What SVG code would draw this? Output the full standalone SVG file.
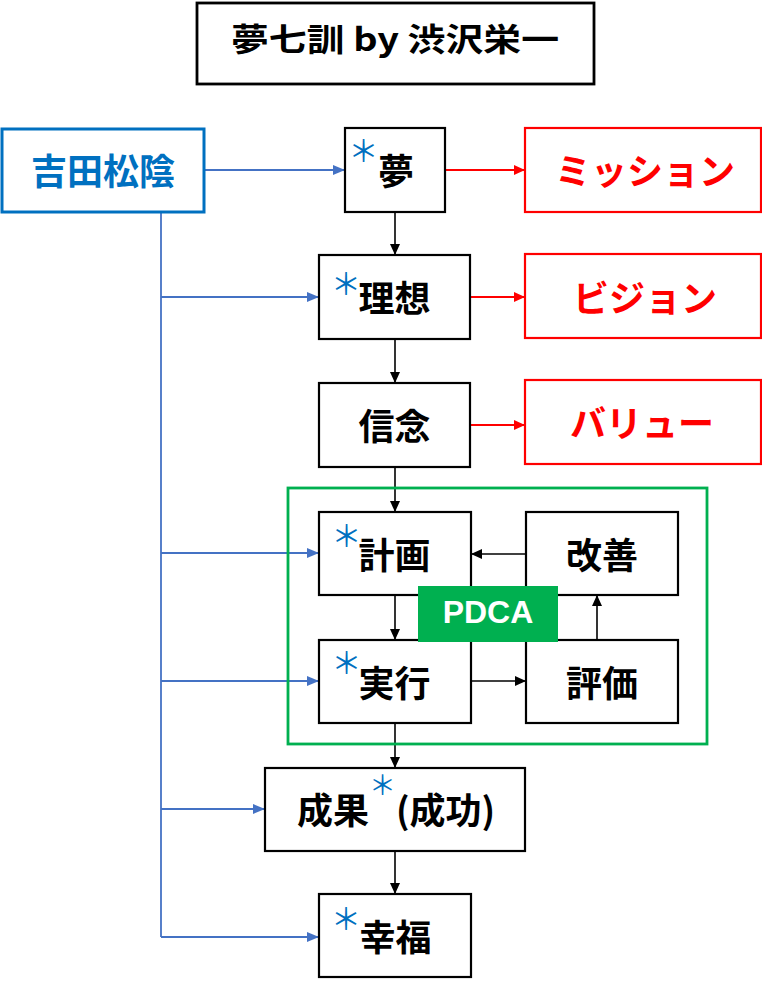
<svg xmlns="http://www.w3.org/2000/svg" width="762" height="982" viewBox="0 0 762 982">
<style>
.box{fill:#fff;stroke:#000;stroke-width:2.2}
.rbox{fill:#fff;stroke:#FF0000;stroke-width:2.2}
.t{font-family:"Noto Sans CJK JP","Noto Sans",sans-serif;font-weight:bold;font-size:36px;fill:#000;dominant-baseline:central;text-anchor:middle}
.r{fill:#FF0000}
.ast{font-family:"Noto Sans CJK JP",sans-serif;font-weight:normal;font-size:30px;fill:#0070C0;dominant-baseline:central;text-anchor:middle}
.k{stroke:#000;stroke-width:1.6;fill:none;marker-end:url(#ak)}
.rd{stroke:#FF0000;stroke-width:1.8;fill:none;marker-end:url(#ar)}
.bl{stroke:#4472C4;stroke-width:1.8;fill:none}
.bla{stroke:#4472C4;stroke-width:1.8;fill:none;marker-end:url(#ab)}
</style>
<defs>
<marker id="ak" markerUnits="userSpaceOnUse" markerWidth="11" markerHeight="10" refX="11" refY="5" orient="auto"><path d="M0,0 L11,5 L0,10 z" fill="#000"/></marker>
<marker id="ar" markerUnits="userSpaceOnUse" markerWidth="11" markerHeight="10" refX="11" refY="5" orient="auto"><path d="M0,0 L11,5 L0,10 z" fill="#FF0000"/></marker>
<marker id="ab" markerUnits="userSpaceOnUse" markerWidth="12" markerHeight="10" refX="12" refY="5" orient="auto"><path d="M0,0 L12,5 L0,10 z" fill="#4472C4"/></marker>
</defs>
<rect width="762" height="982" fill="#fff"/>

<g id="title">
<rect x="197" y="3" width="397" height="81" fill="#fff" stroke="#000" stroke-width="2.8"/>
<text x="231" y="37" class="t" style="font-size:32px;text-anchor:start" textLength="328" lengthAdjust="spacingAndGlyphs">夢七訓 by 渋沢栄一</text>
</g>

<g id="connectors">
<line class="bl" x1="161" y1="212" x2="161" y2="937"/>
<line class="bla" x1="204" y1="170" x2="345" y2="170"/>
<line class="bla" x1="161" y1="297" x2="319" y2="297"/>
<line class="bla" x1="161" y1="553" x2="319" y2="553"/>
<line class="bla" x1="161" y1="681" x2="319" y2="681"/>
<line class="bla" x1="161" y1="809" x2="265" y2="809"/>
<line class="bla" x1="161" y1="937" x2="319" y2="937"/>
<line class="rd" x1="445" y1="170" x2="525" y2="170"/>
<line class="rd" x1="470" y1="297" x2="525" y2="297"/>
<line class="rd" x1="470" y1="425" x2="525" y2="425"/>
<line class="k" x1="395" y1="212" x2="395" y2="255"/>
<line class="k" x1="395" y1="339" x2="395" y2="383"/>
<line class="k" x1="395" y1="467" x2="395" y2="512"/>
<line class="k" x1="395" y1="595" x2="395" y2="640"/>
<line class="k" x1="471" y1="681" x2="526" y2="681"/>
<line class="k" x1="597" y1="640" x2="597" y2="595"/>
<line class="k" x1="526" y1="554" x2="471" y2="554"/>
<line class="k" x1="395" y1="723" x2="395" y2="768"/>
<line class="k" x1="395" y1="851" x2="395" y2="894"/>
</g>

<g id="pdca-frame">
<rect x="288" y="488" width="419" height="256" fill="none" stroke="#00B050" stroke-width="2.8"/>
</g>

<g id="shoin">
<rect x="2" y="129" width="202" height="83" fill="#fff" stroke="#0070C0" stroke-width="3"/>
<text x="103" y="169" class="t" style="fill:#0070C0">吉田松陰</text>
</g>

<g id="yume">
<rect class="box" x="345" y="128" width="100" height="84"/>
<text x="396" y="169" class="t">夢</text>
<text x="363.5" y="149" class="ast">＊</text>
</g>

<g id="riso">
<rect class="box" x="319" y="255" width="151" height="84"/>
<text x="394.5" y="296" class="t">理想</text>
<text x="346" y="282" class="ast">＊</text>
</g>

<g id="shinnen">
<rect class="box" x="319" y="383" width="151" height="84"/>
<text x="394.5" y="424" class="t">信念</text>
</g>

<g id="mission">
<rect class="rbox" x="525" y="128" width="236" height="84"/>
<text x="645" y="169" class="t r">ミッション</text>
</g>

<g id="vision">
<rect class="rbox" x="525" y="254" width="236" height="84"/>
<text x="645" y="296" class="t r">ビジョン</text>
</g>

<g id="value">
<rect class="rbox" x="525" y="380" width="236" height="84"/>
<text x="642" y="421" class="t r">バリュー</text>
</g>

<g id="keikaku">
<rect class="box" x="319" y="512" width="152" height="83"/>
<text x="394.5" y="553" class="t">計画</text>
<text x="346.5" y="534" class="ast">＊</text>
</g>

<g id="kaizen">
<rect class="box" x="526" y="512" width="152" height="83"/>
<text x="602" y="553" class="t">改善</text>
</g>

<g id="jikko">
<rect class="box" x="319" y="640" width="152" height="83"/>
<text x="394.5" y="681" class="t">実行</text>
<text x="346.5" y="661" class="ast">＊</text>
</g>

<g id="hyoka">
<rect class="box" x="526" y="640" width="152" height="83"/>
<text x="602" y="681" class="t">評価</text>
</g>

<g id="pdca">
<rect x="418" y="586" width="140" height="56" fill="#00B050"/>
<text x="488" y="612" class="t" style="fill:#fff;font-family:'Liberation Sans',Arial,sans-serif;font-size:32px">PDCA</text>
</g>

<g id="seika">
<rect class="box" x="265" y="768" width="260" height="83"/>
<text x="297" y="808" class="t" style="text-anchor:start">成果<tspan class="ast" style="font-size:27px" dy="-25">＊</tspan><tspan dy="25">(成功)</tspan></text>
</g>

<g id="kofuku">
<rect class="box" x="319" y="894" width="152" height="83"/>
<text x="395.5" y="935" class="t">幸福</text>
<text x="346" y="917" class="ast">＊</text>
</g>
</svg>
